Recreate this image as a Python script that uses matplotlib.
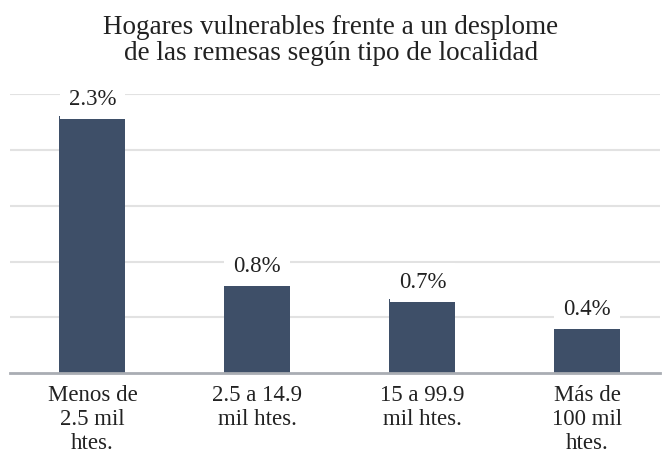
import matplotlib.pyplot as plt

# data
categories = ["Menos de\n2.5 mil\nhtes.", "2.5 a 14.9\nmil htes.", "15 a 99.9\nmil htes.", "Más de\n100 mil\nhtes."]
values = [2.3, 0.81, 0.66, 0.42]
value_labels = ["2.3%", "0.8%", "0.7%", "0.4%"]
title = "Hogares vulnerables frente a un desplome\nde las remesas según tipo de localidad"

plt.rcParams["font.family"] = ["Liberation Serif", "DejaVu Serif"]
text_color = "#222222"
bar_color = "#3e4f68"

fig = plt.figure(figsize=(6.62, 4.55), dpi=100)
ax = fig.add_axes([0.015, 0.18, 0.982, 0.613])

x = range(len(categories))
bars = ax.bar(x, values, width=0.4, color=bar_color, zorder=3)

for b, lab in zip(bars, value_labels):
    ax.annotate(lab, (b.get_x() + b.get_width() / 2, b.get_height()),
                xytext=(0, 12), textcoords="offset points",
                ha="center", va="center", fontsize=16.5, color=text_color,
                bbox=dict(boxstyle="square,pad=0.4", fc="white", ec="none"),
                zorder=4)

ax.set_ylim(0, 2.5)
ax.set_xlim(-0.5, 3.44)
ax.set_yticks([0.5, 1.0, 1.5, 2.0, 2.5])
ax.yaxis.grid(True, color="#e2e2e2", linewidth=1.5, zorder=0)
ax.tick_params(axis="y", left=False, labelleft=False)
ax.tick_params(axis="x", bottom=False, pad=5)
ax.set_xticks(list(x))
ax.set_xticklabels(categories, fontsize=16.5, color=text_color, linespacing=1.2)

for side in ["top", "right", "left"]:
    ax.spines[side].set_visible(False)
ax.spines["bottom"].set_color("#a9adb3")
ax.spines["bottom"].set_linewidth(2)
ax.spines["bottom"].set_zorder(5)

fig.text(0.5, 0.91, title, ha="center", va="center", fontsize=19.5,
         color=text_color, linespacing=1.05)

fig.savefig("out.png", dpi=100)
